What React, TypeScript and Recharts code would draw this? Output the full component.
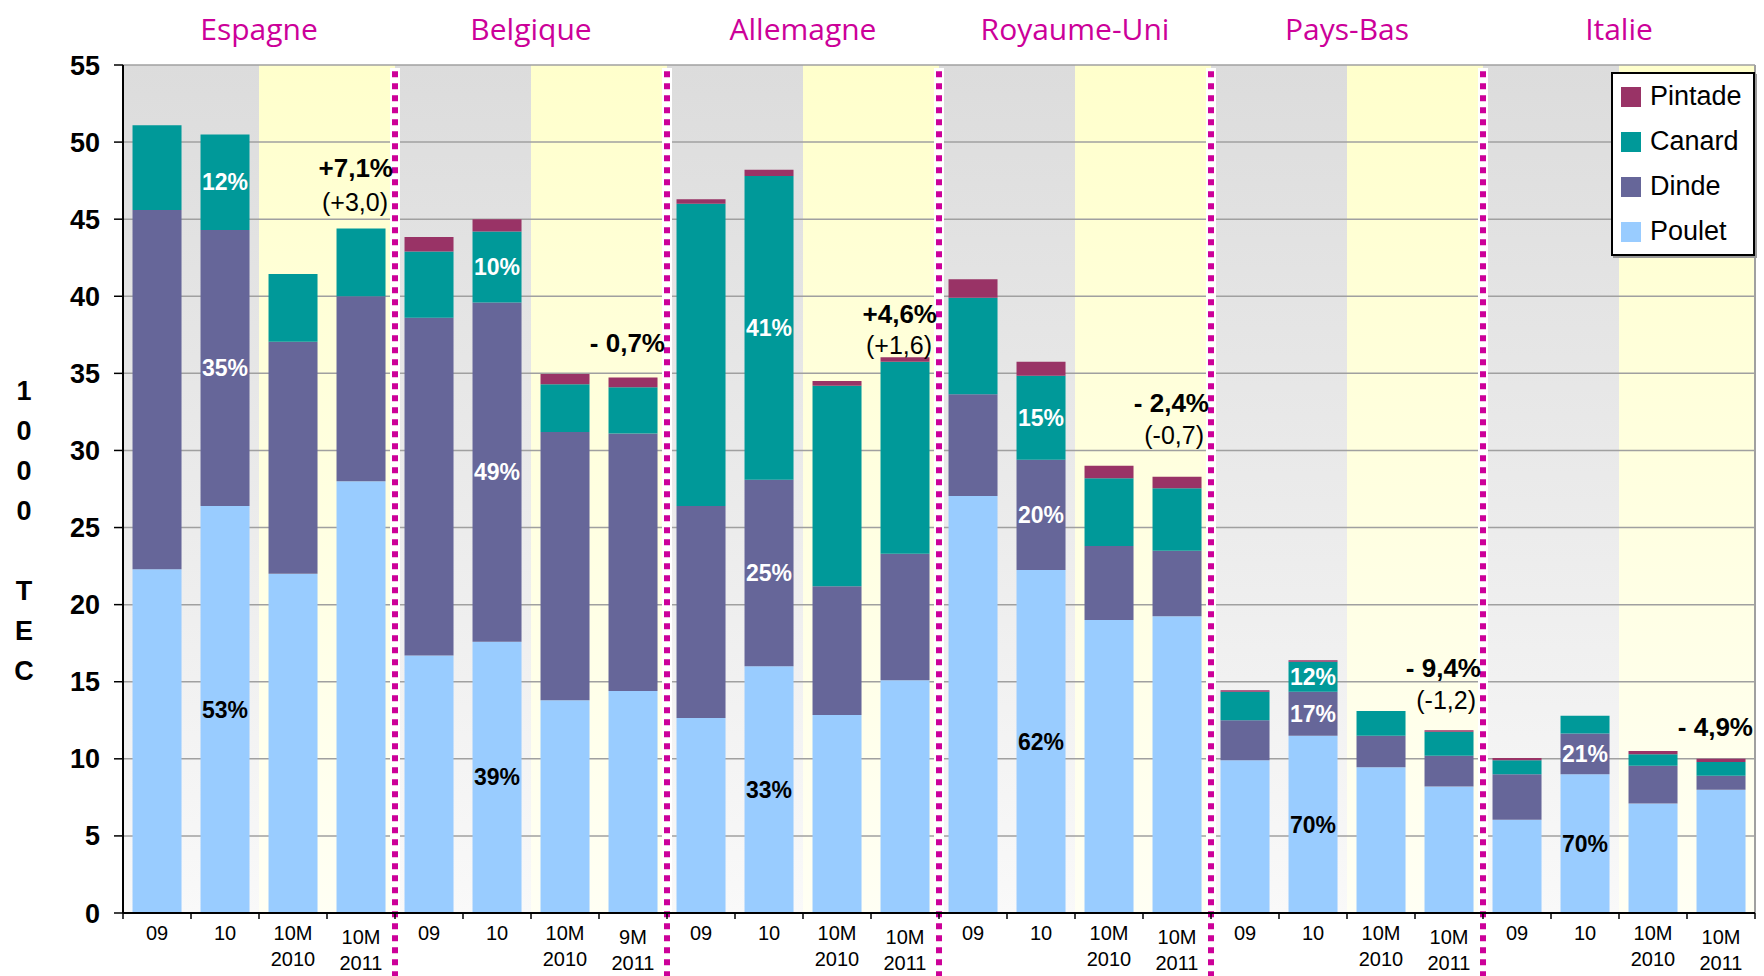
import React from 'react';
import {
  BarChart, Bar, XAxis, YAxis, CartesianGrid, ReferenceArea, ReferenceLine,
  ReferenceDot, LabelList, Legend,
} from 'recharts';

const FONT = '"Liberation Sans", Arial, Helvetica, sans-serif';
const TITLE_FONT = '"Comic Sans MS", "Open Sans", sans-serif';

const countries = ['Espagne', 'Belgique', 'Allemagne', 'Royaume-Uni', 'Pays-Bas', 'Italie'];
const tickLabels = [
  '09', '10', '10M|2010', '10M|2011',
  '09', '10', '10M|2010', '9M|2011',
  '09', '10', '10M|2010', '10M|2011',
  '09', '10', '10M|2010', '10M|2011',
  '09', '10', '10M|2010', '10M|2011',
  '09', '10', '10M|2010', '10M|2011',
];
const yTicks = [0, 5, 10, 15, 20, 25, 30, 35, 40, 45, 50, 55];

// 1000 TEC per species
const poulet = [22.3, 26.4, 22.0, 28.0, 16.7, 17.6, 13.8, 14.4, 12.65, 16.0, 12.85, 15.1, 27.05, 22.25, 19.0, 19.25, 9.9, 11.5, 9.45, 8.2, 6.05, 9.0, 7.1, 8.0];
const dinde = [23.3, 17.9, 15.05, 12.0, 21.9, 22.0, 17.4, 16.7, 13.75, 12.1, 8.35, 8.2, 6.6, 7.15, 4.8, 4.25, 2.6, 2.85, 2.05, 2.0, 2.95, 2.65, 2.45, 0.9];
const canard = [5.5, 6.2, 4.4, 4.4, 4.3, 4.6, 3.1, 3.0, 19.6, 19.7, 13.0, 12.45, 6.25, 5.45, 4.4, 4.05, 1.85, 1.95, 1.6, 1.55, 0.9, 1.15, 0.75, 0.9];
const pintade = [0, 0, 0, 0, 0.95, 0.8, 0.66, 0.63, 0.3, 0.4, 0.3, 0.3, 1.2, 0.9, 0.8, 0.75, 0.1, 0.1, 0, 0.1, 0.15, 0, 0.2, 0.2];

// share labels shown inside the "10" bars
const pouletPct = [null, '53%', null, null, null, '39%', null, null, null, '33%', null, null, null, '62%', null, null, null, '70%', null, null, null, '70%', null, null];
const dindePct = [null, '35%', null, null, null, '49%', null, null, null, '25%', null, null, null, '20%', null, null, null, '17%', null, null, null, '21%', null, null];
const canardPct = [null, '12%', null, null, null, '10%', null, null, null, '41%', null, null, null, '15%', null, null, null, '12%', null, null, null, null, null, null];

// evolution notes next to the last bar of each country
const noteBar = [3, 7, 11, 15, 19, 23];
const notePct = ['+7,1%', '- 0,7%', '+4,6%', '- 2,4%', '- 9,4%', '- 4,9%'];
const notePctY = [48.3, 37.0, 38.85, 33.1, 15.9, 12.1];
const noteAbs = ['(+3,0)', null, '(+1,6)', '(-0,7)', '(-1,2)', null];
const noteAbsY = [46.1, null, 36.8, 31.0, 13.8, null];

const series = [
  { key: 'poulet', name: 'Poulet', color: '#99ccff' },
  { key: 'dinde', name: 'Dinde', color: '#666699' },
  { key: 'canard', name: 'Canard', color: '#009999' },
  { key: 'pintade', name: 'Pintade', color: '#993366' },
];

const ids = tickLabels.map((_, i) => `${countries[Math.floor(i / 4)]}-${i}`);
const data = ids.map((id, i) => ({
  id,
  poulet: poulet[i],
  dinde: dinde[i],
  canard: canard[i],
  pintade: pintade[i],
  pouletPct: pouletPct[i],
  dindePct: dindePct[i],
  canardPct: canardPct[i],
}));

function XTick(props: any) {
  const { x, y, payload, width, visibleTicksCount } = props;
  const n = visibleTicksCount || ids.length;
  const band = (width || 1632) / n;
  const i = payload.index;
  const lines = tickLabels[i].split('|');
  const low = i % 4 === 3 ? 4 : 0;
  return (
    <g>
      <line x1={x - band / 2} x2={x - band / 2} y1={y} y2={y + 6} stroke="#000" strokeWidth={1.5} />
      {i === n - 1 && <line x1={x + band / 2} x2={x + band / 2} y1={y} y2={y + 6} stroke="#000" strokeWidth={1.5} />}
      <text x={x} y={y} textAnchor="middle" fontSize={20} fill="#000" fontFamily={FONT}>
        {lines.map((l, k) => (
          <tspan key={k} x={x} dy={k === 0 ? 27 + low : 26}>{l}</tspan>
        ))}
      </text>
    </g>
  );
}

function YTitle(props: any) {
  const vb = props.viewBox || { y: 65, height: 848 };
  const cy = vb.y + vb.height / 2;
  const chars = ['1', '0', '0', '0', '', 'T', 'E', 'C'];
  return (
    <text x={24} y={cy - 89} textAnchor="middle" fontSize={27} fontWeight="bold" fill="#000" fontFamily={FONT}>
      {chars.map((c, k) => (
        <tspan key={k} x={24} dy={k === 0 ? 0 : 40}>{c || ' '}</tspan>
      ))}
    </text>
  );
}

// right-aligned note text, anchored near the right edge of the bar's band
const noteLabel = (value: string, shift: number, bold: boolean) => (p: any) => {
  const vb = p.viewBox || { x: 0, y: 0, width: 0, height: 0 };
  const cx = vb.x + vb.width / 2;
  const cy = vb.y + vb.height / 2;
  return (
    <text
      x={cx + shift}
      y={cy}
      dy="0.35em"
      textAnchor="end"
      fill="#000"
      fontSize={bold ? 26 : 25}
      fontWeight={bold ? 'bold' : 'normal'}
      fontFamily={FONT}
    >
      {value}
    </text>
  );
};

const renderLegend = () => (
  <div style={{
    border: '2px solid #000', background: '#fff', boxShadow: '2px 2px 0 #999',
    padding: '0 8px', boxSizing: 'border-box', width: 144, fontFamily: FONT,
  }}>
    {[...series].reverse().map((s) => (
      <div key={s.key} style={{ height: 45, display: 'flex', alignItems: 'center' }}>
        <span style={{ width: 20, height: 20, background: s.color, display: 'inline-block', marginRight: 9 }} />
        <span style={{ fontSize: 27, color: '#000' }}>{s.name}</span>
      </div>
    ))}
  </div>
);

export default function App() {
  return (
    <div style={{ position: 'absolute', left: 0, top: 0, width: 1764, height: 976, background: '#fff' }}>
      <BarChart
        width={1764}
        height={976}
        data={data}
        margin={{ top: 65, right: 9, bottom: 0, left: 0 }}
        barCategoryGap="14%"
      >
        <defs>
          <linearGradient id="bandGray" x1="0" y1="0" x2="0" y2="1">
            <stop offset="0%" stopColor="#dcdcdc" />
            <stop offset="100%" stopColor="#f9f9f9" />
          </linearGradient>
          <linearGradient id="bandYellow" x1="0" y1="0" x2="0" y2="1">
            <stop offset="0%" stopColor="#ffffcc" />
            <stop offset="100%" stopColor="#fffff4" />
          </linearGradient>
        </defs>
        {countries.map((c, g) => (
          <ReferenceArea key={`g${c}`} x1={ids[4 * g]} x2={ids[4 * g + 1]} fill="url(#bandGray)" fillOpacity={1} stroke="none" zIndex={-150} />
        ))}
        {countries.map((c, g) => (
          <ReferenceArea key={`y${c}`} x1={ids[4 * g + 2]} x2={ids[4 * g + 3]} fill="url(#bandYellow)" fillOpacity={1} stroke="none" zIndex={-150} />
        ))}
        <CartesianGrid vertical={false} stroke="#a0a0a0" strokeWidth={1.5} zIndex={-100} />
        <XAxis
          dataKey="id"
          interval={0}
          tick={<XTick />}
          tickLine={false}
          tickSize={0}
          tickMargin={0}
          height={63}
          axisLine={{ stroke: '#000', strokeWidth: 2 }}
        />
        <YAxis
          domain={[0, 55]}
          ticks={yTicks}
          width={123}
          tickSize={9}
          tickMargin={14}
          tickLine={{ stroke: '#000', strokeWidth: 1.5 }}
          axisLine={{ stroke: '#000', strokeWidth: 2 }}
          tick={{ fontSize: 27, fontWeight: 'bold', fill: '#000', fontFamily: FONT }}
          label={<YTitle />}
        />
        {series.map((s) => (
          <Bar key={s.key} dataKey={s.key} name={s.name} stackId="a" fill={s.color} isAnimationActive={false}>
            {s.key !== 'pintade' && (
              <LabelList
                dataKey={`${s.key}Pct`}
                position="center"
                fill={s.key === 'poulet' ? '#000' : '#fff'}
                fontSize={23}
                fontWeight="bold"
                fontFamily={FONT}
              />
            )}
          </Bar>
        ))}
        <ReferenceLine x={ids[ids.length - 1]} position="end" stroke="#a0a0a0" strokeWidth={2} />
        {countries.slice(1).map((c, k) => (
          <ReferenceLine
            key={`w${c}`}
            segment={[{ x: ids[4 * (k + 1)], y: 54.8 }, { x: ids[4 * (k + 1)], y: -4.2 }]}
            position="start"
            ifOverflow="visible"
            stroke="#fff"
            strokeWidth={10}
          />
        ))}
        {countries.slice(1).map((c, k) => (
          <ReferenceLine
            key={`d${c}`}
            segment={[{ x: ids[4 * (k + 1)], y: 54.6 }, { x: ids[4 * (k + 1)], y: -4.2 }]}
            position="start"
            ifOverflow="visible"
            stroke="#cc0099"
            strokeWidth={6}
            strokeDasharray="6 6"
          />
        ))}
        {countries.map((c, g) => (
          <ReferenceLine
            key={`t${c}`}
            x={ids[4 * g + 2]}
            position="start"
            stroke="none"
            label={{ value: c, position: 'top', offset: 25, fill: '#cc0099', fontSize: 30, fontFamily: TITLE_FONT }}
          />
        ))}
        {noteBar.map((b, k) => (
          <ReferenceDot
            key={`p${b}`}
            x={ids[b]}
            y={notePctY[k]}
            r={0}
            ifOverflow="visible"
            label={{ content: noteLabel(notePct[k], 32, true) }}
          />
        ))}
        {noteBar.map((b, k) =>
          noteAbs[k] ? (
            <ReferenceDot
              key={`a${b}`}
              x={ids[b]}
              y={noteAbsY[k] as number}
              r={0}
              ifOverflow="visible"
              label={{ content: noteLabel(noteAbs[k] as string, 27, false) }}
            />
          ) : null,
        )}
        <Legend
          layout="vertical"
          align="center"
          verticalAlign="middle"
          content={renderLegend}
          wrapperStyle={{ left: 1611, top: 72, width: 144 }}
        />
      </BarChart>
    </div>
  );
}
